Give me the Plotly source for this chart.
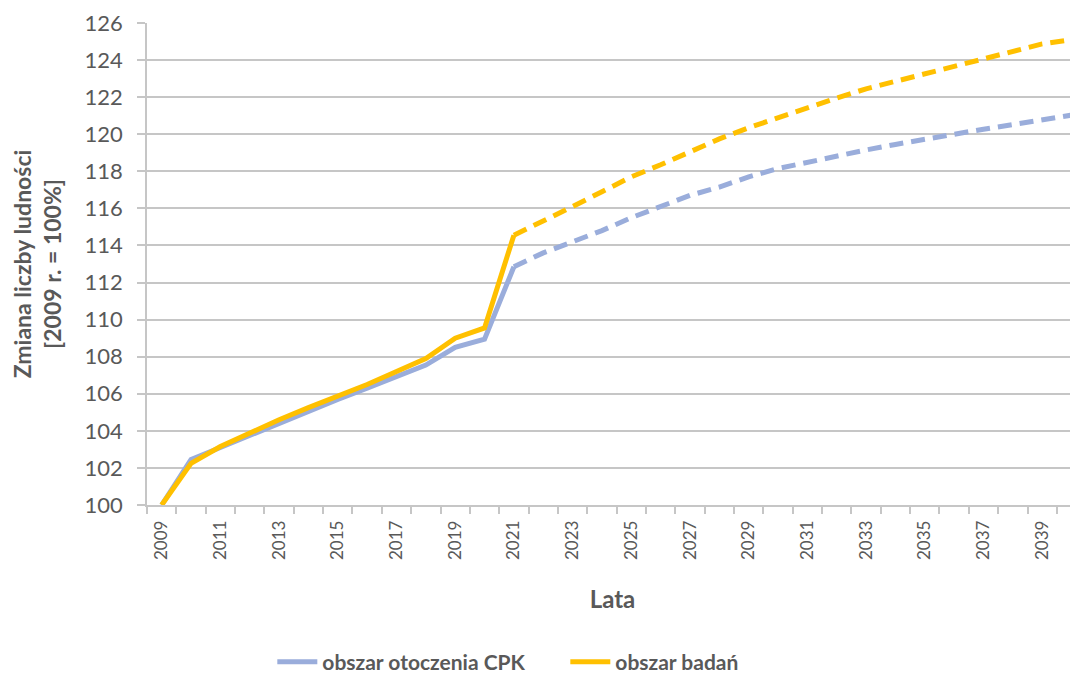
import plotly.graph_objects as go

years = list(range(2009, 2041))
otoczenie_cpk = [100.0, 102.45, 103.1, 103.75, 104.45, 105.1, 105.7, 106.3, 106.9, 107.55, 108.5, 108.95,
                 112.85, 113.6, 114.2, 114.8, 115.5, 116.1, 116.7, 117.15, 117.7, 118.15,
                 118.5, 118.85, 119.15, 119.45, 119.7, 120.0, 120.27, 120.54, 120.77, 121.03]
obszar_badan = [100.0, 102.25, 103.15, 103.9, 104.6, 105.25, 105.85, 106.5, 107.2, 107.9, 109.0, 109.55,
                114.55, 115.3, 116.1, 116.9, 117.7, 118.35, 119.05, 119.75, 120.35, 120.9,
                121.45, 121.95, 122.45, 122.85, 123.27, 123.7, 124.1, 124.5, 124.87, 125.1]
last_actual_year = 2021
tick_years = list(range(2009, 2041, 2))
y_ticks = list(range(100, 127, 2))

names = ["obszar otoczenia CPK", "obszar badań"]
colors = ["#9AADDB", "#FFC000"]
series = [otoczenie_cpk, obszar_badan]

split = years.index(last_actual_year)

fig = go.Figure()
for name, col, vals in zip(names, colors, series):
    fig.add_trace(go.Scatter(x=years[:split + 1], y=vals[:split + 1], mode="lines", name=name,
                             line=dict(color=col, width=5), showlegend=True))
for name, col, vals in zip(names, colors, series):
    fig.add_trace(go.Scatter(x=years[split:], y=vals[split:], mode="lines", name=name,
                             line=dict(color=col, width=5, dash="14px,8px"), showlegend=False))

grid = "#C6C6C6"
txt = "#595959"
fig.update_layout(
    width=1078, height=682,
    margin=dict(l=139, r=8, t=15, b=180),
    plot_bgcolor="white", paper_bgcolor="white",
    font=dict(family="Lato", color=txt),
    legend=dict(orientation="h", x=0.1346, xanchor="left", y=-0.326, yanchor="middle",
                font=dict(size=21, color=txt, family="Lato", weight="bold"), itemwidth=40,
                entrywidth=238, traceorder="normal"),
    xaxis=dict(
        range=[2008.5, 2040.22], automargin=False,
        tickmode="array", tickvals=tick_years, ticktext=[str(y) for y in tick_years],
        tickangle=-90, tickfont=dict(size=17, color=txt, family="Lato"),
        ticks="outside", ticklen=7, tickcolor="rgba(0,0,0,0)",
        minor=dict(tickmode="array", tickvals=[y - 0.5 for y in years] + [years[-1] + 0.5],
                   ticks="outside", ticklen=7, tickcolor=grid, tickwidth=1.5, showgrid=False),
        showline=True, linecolor=grid, linewidth=1.5,
        showgrid=False, zeroline=False,
        title=dict(text="<b>Lata</b>", font=dict(size=24, color=txt), standoff=32),
    ),
    yaxis=dict(
        range=[100, 126], tickmode="array", tickvals=y_ticks, automargin=False,
        tickfont=dict(size=22, color=txt, family="Lato"),
        ticks="outside", ticklen=8, tickcolor=grid, tickwidth=1.5, ticklabelstandoff=10,
        showline=True, linecolor=grid, linewidth=1.5,
        showgrid=True, gridcolor=grid, gridwidth=1.5, zeroline=False,
        title=dict(text="<b>Zmiana liczby ludności<br>[2009 r. = 100%]</b>",
                   font=dict(size=23, color=txt), standoff=18),
    ),
)

fig.write_html("out.html")
